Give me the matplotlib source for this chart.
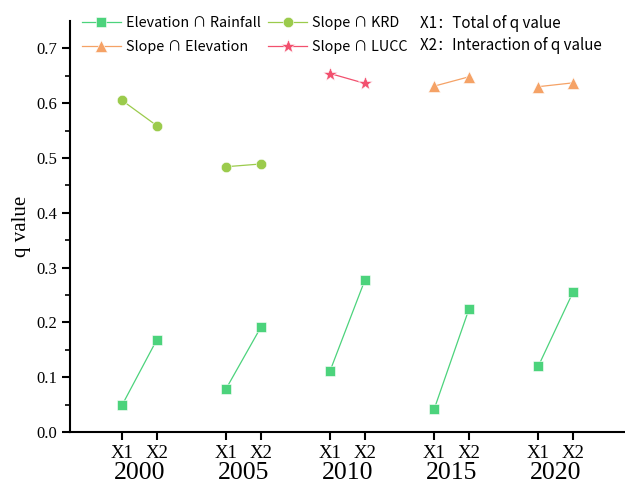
import numpy as np
import matplotlib
matplotlib.use('Agg')
import matplotlib.pyplot as plt

years = ['2000', '2005', '2010', '2015', '2020']

# q values, (X1, X2) per year
elev_rain_x1 = [0.049, 0.079, 0.112, 0.042, 0.120]
elev_rain_x2 = [0.168, 0.191, 0.277, 0.224, 0.255]

krd_years = [0, 1]
krd_x1 = [0.605, 0.484]
krd_x2 = [0.559, 0.489]

lucc_years = [2]
lucc_x1 = [0.654]
lucc_x2 = [0.636]

slope_elev_years = [3, 4]
slope_elev_x1 = [0.631, 0.630]
slope_elev_x2 = [0.648, 0.637]

c_green = '#4CD37C'
c_olive = '#9BCB4C'
c_red = '#F2506E'
c_orange = '#F5A266'

serif = 'Liberation Serif'
sans = ['Noto Sans CJK SC', 'DejaVu Sans']

fig = plt.figure(figsize=(6.25, 4.86), dpi=100)
ax = fig.add_axes([0.112, 0.111, 0.888, 0.846])

def pos(i):
    return 3 * i + 1, 3 * i + 2

def draw(idx, v1, v2, color, marker, ms, label):
    first = True
    for i, a, b in zip(idx, v1, v2):
        p1, p2 = pos(i)
        ax.plot([p1, p2], [a, b], color=color, lw=0.9, marker=marker,
                ms=ms, mec='white', mew=0.4,
                label=label if first else None)
        first = False

draw(range(len(years)), elev_rain_x1, elev_rain_x2, c_green, 's', 7, 'Elevation ∩ Rainfall')
draw(slope_elev_years, slope_elev_x1, slope_elev_x2, c_orange, '^', 9, 'Slope ∩ Elevation')
draw(krd_years, krd_x1, krd_x2, c_olive, 'o', 7.5, 'Slope ∩ KRD')
draw(lucc_years, lucc_x1, lucc_x2, c_red, '*', 10, 'Slope ∩ LUCC')

ax.set_xlim(-0.5, 15.5)
ax.set_ylim(0, 0.75)
ax.spines['top'].set_visible(False)
ax.spines['right'].set_visible(False)
ax.spines['left'].set_linewidth(1.5)
ax.spines['bottom'].set_linewidth(1.5)

ticks = []
tlabels = []
for i in range(len(years)):
    p1, p2 = pos(i)
    ticks += [p1, p2]
    tlabels += ['X1', 'X2']
ax.set_xticks(ticks)
ax.set_xticklabels(tlabels, fontfamily=serif, fontsize=13.5)
ax.set_yticks(np.arange(0, 0.71, 0.1))
ax.set_yticklabels(['%.1f' % v for v in np.arange(0, 0.71, 0.1)], fontfamily=serif, fontsize=12)
ax.set_yticks(np.arange(0.05, 0.75, 0.1), minor=True)
ax.tick_params(axis='both', which='major', direction='out', length=6, width=1.5, pad=3)
ax.tick_params(axis='y', which='minor', direction='out', length=3.5, width=1.2)

for i, y in enumerate(years):
    p1, p2 = pos(i)
    ax.text((p1 + p2) / 2, -0.072, y, transform=ax.get_xaxis_transform(),
            ha='center', va='top', fontfamily=serif, fontsize=18.5)

ax.set_ylabel('q value', fontfamily=serif, fontsize=15, labelpad=4)

h, l = ax.get_legend_handles_labels()
leg = ax.legend(h, l, ncol=2, loc='upper left', bbox_to_anchor=(0.131, 0.968),
                bbox_transform=fig.transFigure, frameon=False, borderpad=0,
                borderaxespad=0, handlelength=2.7, handletextpad=0.35,
                columnspacing=0.55, labelspacing=0.72,
                prop={'family': sans, 'size': 10.3})

fig.text(420 / 625, 1 - 23 / 486, 'X1：Total of q value', family=sans, fontsize=10.9, va='center')
fig.text(420 / 625, 1 - 45 / 486, 'X2：Interaction of q value', family=sans, fontsize=10.9, va='center')

fig.savefig('out.png', dpi=100)
